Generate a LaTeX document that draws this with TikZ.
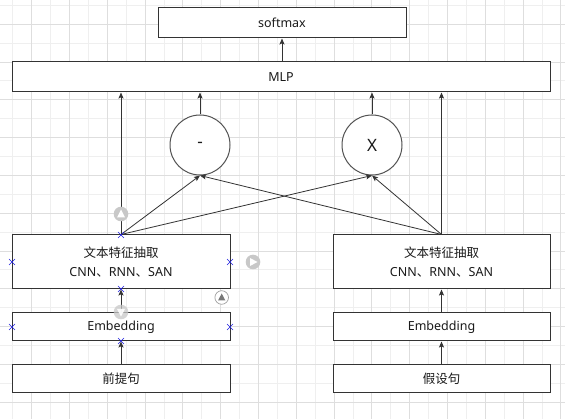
\documentclass[tikz,border=0pt]{standalone}
\usepackage{fontspec}
\setmainfont{Noto Sans}
\newfontfamily\cjk{Noto Sans CJK SC}
\usetikzlibrary{arrows.meta}
\definecolor{ln}{HTML}{333333}
\definecolor{txt}{HTML}{1A1A1A}
\definecolor{gminor}{HTML}{EFEFEF}
\definecolor{gmajor}{HTML}{DEDEDE}
\definecolor{xmark}{HTML}{2020E0}
\definecolor{icon}{HTML}{C8C8C8}
\begin{document}
\begin{tikzpicture}[x=1pt,y=-1pt,
  box/.style={draw=ln, line width=1pt, inner sep=0pt, text=txt,
    font=\fontsize{12.5}{19}\selectfont, align=center},
  opnode/.style={circle, draw=ln!85, line width=1pt, minimum size=60pt, inner sep=0pt,
    text=txt, font=\fontsize{17}{17}\selectfont},
  arr/.style={draw=ln, line width=0.9pt, -{Stealth[length=6pt,width=5pt,inset=1.2pt]}},
  conn/.style={draw=ln, line width=0.8pt, -{Stealth[length=6pt,width=5pt,inset=1.2pt]}},
  xm/.style={draw=xmark, line width=0.6pt},
  iconc/.style={fill=icon, draw=none},
]
\useasboundingbox (0,0) rectangle (565,419);
\fill[white] (0,0) rectangle (565,419);
% grid
\foreach \k in {0,...,29} {\draw[gminor, line width=0.8pt] ({12.7+18.9*\k},0) -- ({12.7+18.9*\k},419);}
\foreach \k in {0,...,21} {\draw[gminor, line width=0.8pt] (0,{5.3+18.9*\k}) -- (565,{5.3+18.9*\k});}
\foreach \k in {1,3,...,29} {\draw[gmajor, line width=0.8pt] ({12.7+18.9*\k},0) -- ({12.7+18.9*\k},419);}
\foreach \k in {1,3,...,21} {\draw[gmajor, line width=0.8pt] (0,{5.3+18.9*\k}) -- (565,{5.3+18.9*\k});}

% nodes
\node[box, fill=white, minimum width=248pt, minimum height=30pt] (soft) at (282,23) {softmax};
\node[box, fill=white, minimum width=538pt, minimum height=30pt] (mlp) at (281,77) {MLP};
\node[opnode, fill=white] (minus) at (200,145) {-};
\node[opnode, fill=white] (times) at (372,145) {X};
\node[box, fill=white, minimum width=218pt, minimum height=54pt] (featL) at (121,262) {{\cjk 文本特征抽取}\\CNN{\cjk 、}RNN{\cjk 、}SAN};
\node[box, fill=white, minimum width=218pt, minimum height=28pt] (embL) at (121,327) {Embedding};
\node[box, fill=white, minimum width=218pt, minimum height=28pt] (premL) at (121,379) {\cjk 前提句};
\node[box, fill=white, minimum width=217pt, minimum height=54pt] (featR) at (441.5,262) {{\cjk 文本特征抽取}\\CNN{\cjk 、}RNN{\cjk 、}SAN};
\node[box, fill=white, minimum width=217pt, minimum height=28pt] (embR) at (441.5,327) {Embedding};
\node[box, fill=white, minimum width=217pt, minimum height=28pt] (hypR) at (441.5,379) {\cjk 假设句};

% connectors
\draw[arr] (mlp.north -| soft) -- (soft.south);
\draw[arr] (minus.north) -- (minus.north |- mlp.south);
\draw[arr] (times.north) -- (times.north |- mlp.south);
\draw[arr] (featL.north) -- (featL.north |- mlp.south);
\draw[arr] (featR.north) -- (featR.north |- mlp.south);
\draw[conn] (featL.north) -- (minus.south);
\draw[conn] (featL.north) -- (times.south);
\draw[conn] (featR.north) -- (minus.south);
\draw[conn] (featR.north) -- (times.south);
\draw[arr] (embL.north) -- (featL.south);
\draw[arr] (premL.north) -- (embL.south);
\draw[arr] (embR.north) -- (featR.south);
\draw[arr] (hypR.north) -- (embR.south);

% editor hover icons
\fill[iconc] (121,214) circle (7.3pt);
\fill[white] (117,217.5) -- (125,217.5) -- (121,209.5) -- cycle;
\fill[iconc] (253,262) circle (7.3pt);
\fill[white] (250,258) -- (250,266) -- (257.5,262) -- cycle;
\draw[icon!80!black, line width=0.7pt, fill=white] (221.7,297.5) circle (6.8pt);
\fill[icon!60!black] (218,300.5) -- (225.4,300.5) -- (221.7,293.5) -- cycle;
\fill[icon, opacity=0.75] (121,312) circle (7.3pt);
\fill[white, opacity=0.9] (117,309) -- (125,309) -- (121,316.5) -- cycle;

% connection point marks
\foreach \p in {(121,235),(12,262),(230,262),(121,289),(12,327),(230,327),(121,341)} {
  \draw[xm] \p ++(-3,-3) -- ++(6,6);
  \draw[xm] \p ++(-3,3) -- ++(6,-6);
}
\end{tikzpicture}
\end{document}
